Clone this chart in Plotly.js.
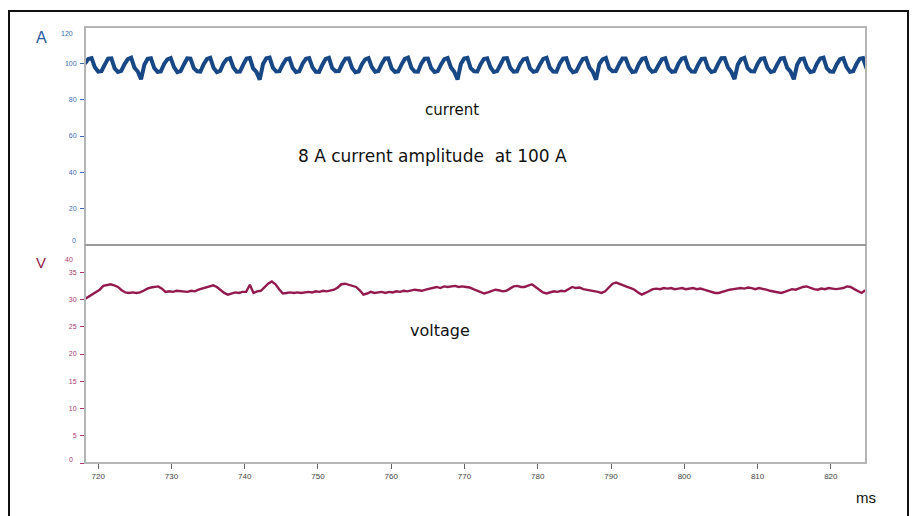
<!DOCTYPE html>
<html>
<head>
<meta charset="utf-8">
<script src="https://cdn.plot.ly/plotly-3.0.1.min.js"></script>
<style>
  html, body { margin: 0; padding: 0; background: #fff; }
  #wrap { position: relative; width: 914px; height: 516px; overflow: hidden; }
  #chart { position: absolute; left: 0; top: 0; width: 914px; height: 516px; }
  #frame { position: absolute; left: 8px; top: 10px; width: 901px; height: 530px;
           border: 2px solid #111; box-sizing: border-box; pointer-events: none; }
</style>
</head>
<body>
<div id="wrap">
  <div id="chart"></div>
  <div id="frame"></div>
</div>
<script>
// Time axis (ms)
const timeRange = [718.2, 824.8];
const timeTicks = [720, 730, 740, 750, 760, 770, 780, 790, 800, 810, 820];

// Current signal (A), uniformly sampled
const currentStart = 718.2;
const currentStep = 0.45;
const currentValues = [
  99.8, 102.4, 102.9, 97.8, 95.4, 95.7,
  99.3, 102.6, 102.7, 97.2, 95.2, 95.8,
  99.6, 102.3, 103.1, 97.6, 95.5, 91.2,
  99.2, 102.5, 102.8, 97.4, 95.3, 95.6,
  99.7, 102.2, 102.9, 97.9, 95.1, 95.7,
  99.4, 102.7, 102.6, 97.3, 95.6, 95.4,
  99.5, 102.4, 103.0, 97.5, 95.2, 95.8,
  99.9, 102.3, 102.8, 97.7, 95.4, 95.5,
  99.3, 102.6, 102.9, 97.2, 95.3, 91.0,
  99.6, 102.8, 103.2, 97.6, 95.5, 95.7,
  99.4, 102.3, 102.7, 97.4, 95.2, 95.6,
  99.8, 102.5, 102.9, 97.8, 95.4, 95.3,
  99.2, 102.4, 103.0, 97.3, 95.6, 95.7,
  99.6, 102.6, 102.7, 97.5, 95.1, 95.5,
  99.5, 102.2, 102.9, 97.9, 95.4, 95.8,
  99.7, 102.7, 102.8, 97.2, 95.3, 95.6,
  99.3, 102.4, 103.1, 97.6, 95.5, 95.4,
  99.8, 102.5, 102.6, 97.4, 95.2, 95.7,
  99.4, 102.3, 102.9, 97.7, 95.4, 91.1,
  99.6, 102.6, 103.0, 97.3, 95.6, 95.5,
  99.5, 102.4, 102.8, 97.8, 95.2, 95.7,
  99.2, 102.7, 102.9, 97.5, 95.4, 95.6,
  99.7, 102.3, 102.7, 97.2, 95.3, 95.8,
  99.4, 102.5, 103.1, 97.6, 95.5, 95.4,
  99.8, 102.6, 102.8, 97.4, 95.1, 95.6,
  99.3, 102.4, 102.9, 97.7, 95.4, 91.0,
  99.6, 102.2, 103.0, 97.3, 95.6, 95.7,
  99.5, 102.7, 102.7, 97.9, 95.2, 95.5,
  99.7, 102.5, 102.9, 97.5, 95.4, 95.8,
  99.2, 102.3, 102.8, 97.2, 95.3, 95.6,
  99.8, 102.6, 103.1, 97.6, 95.5, 95.4,
  99.4, 102.4, 102.6, 97.4, 95.2, 95.7,
  99.6, 102.8, 102.9, 97.8, 95.4, 91.3,
  99.3, 102.3, 103.0, 97.3, 95.6, 95.5,
  99.7, 102.5, 102.8, 97.6, 95.3, 95.8,
  99.5, 102.6, 102.9, 97.5, 95.4, 91.2,
  99.2, 102.4, 102.7, 97.7, 95.2, 95.6,
  99.8, 102.7, 103.1, 97.3, 95.5, 95.4,
  99.4, 102.3, 102.8, 97.9, 95.3, 95.7,
  99.6, 102.5, 102.9, 97.4, 95.4, 95.6
];

// Voltage signal (V), uniformly sampled
const voltageStart = 718.2;
const voltageStep = 0.5;
const voltageValues = [
  30.1, 30.5, 31.0, 31.4, 31.8, 32.5, 32.7, 32.8, 32.6, 32.3,
  31.7, 31.3, 31.2, 31.3, 31.2, 31.3, 31.6, 32.0, 32.2, 32.3,
  32.4, 32.0, 31.4, 31.5, 31.4, 31.6, 31.5, 31.5, 31.4, 31.6,
  31.5, 31.8, 32.0, 32.2, 32.3, 32.6, 32.3, 31.7, 31.2, 30.9,
  31.1, 31.3, 31.2, 31.4, 31.4, 32.7, 31.2, 31.5, 31.6, 32.2,
  32.9, 33.3, 32.8, 31.9, 31.1, 31.2, 31.3, 31.2, 31.3, 31.2,
  31.3, 31.4, 31.3, 31.5, 31.4, 31.6, 31.5, 31.7, 31.8, 32.2,
  32.8, 32.9, 32.7, 32.6, 32.3, 31.7, 30.9, 31.1, 31.4, 31.2,
  31.3, 31.4, 31.2, 31.4, 31.3, 31.5, 31.4, 31.6, 31.5, 31.7,
  31.8, 31.7, 31.6, 31.8, 32.0, 32.2, 32.3, 32.1, 32.4, 32.3,
  32.4, 32.5, 32.3, 32.4, 32.3, 32.2, 31.9, 31.6, 31.3, 31.1,
  31.3, 31.6, 31.8, 31.7, 31.5, 31.6, 32.0, 32.4, 32.5, 32.3,
  32.3, 32.6, 32.8, 32.3, 31.8, 31.3, 31.1, 31.3, 31.5, 31.4,
  31.6, 31.5, 31.9, 32.3, 32.1, 32.2, 31.9, 31.8, 31.7, 31.5,
  31.4, 31.2, 31.5, 32.2, 32.9, 33.1, 32.8, 32.5, 32.3, 32.1,
  31.8, 31.3, 30.9, 31.2, 31.6, 31.9, 32.0, 31.9, 32.1, 32.0,
  32.1, 31.9, 32.0, 32.1, 31.9, 32.0, 32.1, 31.9, 32.0, 31.8,
  31.6, 31.4, 31.2, 31.2, 31.4, 31.7, 31.8, 31.9, 32.0, 32.1,
  32.0, 32.2, 32.1, 31.9, 32.1, 32.0, 31.8, 31.6, 31.5, 31.3,
  31.2, 31.4, 31.7, 31.9, 31.8, 32.1, 32.3, 32.4, 32.1, 31.9,
  31.8, 32.0, 31.9, 32.1, 32.0, 31.9, 32.0, 32.1, 32.4, 32.3,
  31.9, 31.5, 31.2, 31.7
];

// Axis tick values
const currentTicks = [20, 40, 60, 80, 100];
const voltageTicks = [0, 5, 10, 15, 20, 25, 30, 35];
const voltageTickText = ['', '5', '10', '15', '20', '25', '30', '35'];

const BLUE = '#174784';
const BLUE_TXT = '#3d6db3';
const RED = '#931a4e';
const RED_TXT = '#a83a6e';
const FONT = 'Liberation Sans, Arial, sans-serif';
const WIDE = 'DejaVu Sans, sans-serif';

const traces = [
  {
    type: 'scatter', mode: 'lines',
    x0: currentStart, dx: currentStep, y: currentValues,
    xaxis: 'x', yaxis: 'y',
    line: { color: BLUE, width: 4 },
    hoverinfo: 'skip'
  },
  {
    type: 'scatter', mode: 'lines',
    x0: voltageStart, dx: voltageStep, y: voltageValues,
    xaxis: 'x', yaxis: 'y2',
    line: { color: RED, width: 2.4 },
    hoverinfo: 'skip'
  }
];

const layout = {
  width: 914, height: 516,
  margin: { l: 85, r: 48, t: 27, b: 53 },
  paper_bgcolor: 'rgba(0,0,0,0)',
  plot_bgcolor: 'rgba(0,0,0,0)',
  showlegend: false,
  font: { family: FONT },
  xaxis: {
    anchor: 'y2', range: timeRange,
    tickvals: timeTicks, ticks: 'outside', ticklen: 5, tickwidth: 1, tickcolor: '#666',
    tickfont: { size: 8, color: '#444', family: FONT },
    showgrid: false, zeroline: false, showline: false
  },
  yaxis: {
    domain: [0.5, 1], range: [0, 120],
    tickvals: currentTicks, ticks: 'outside', ticklen: 4, tickcolor: BLUE_TXT,
    tickfont: { size: 7, color: BLUE_TXT, family: FONT },
    ticklabelstandoff: 2,
    showgrid: false, zeroline: false, showline: false
  },
  yaxis2: {
    domain: [0, 0.5], range: [0, 40],
    tickvals: voltageTicks, ticktext: voltageTickText,
    ticks: 'outside', ticklen: 4, tickcolor: RED_TXT,
    tickfont: { size: 7, color: RED_TXT, family: FONT },
    ticklabelstandoff: 2,
    showgrid: false, zeroline: false, showline: false
  },
  shapes: [
    { type: 'rect', xref: 'paper', yref: 'paper', x0: 0, x1: 1, y0: 0, y1: 1,
      line: { color: '#b5b5b5', width: 2 } },
    { type: 'line', xref: 'paper', yref: 'paper', x0: 0, x1: 1, y0: 0.5, y1: 0.5,
      line: { color: '#9a9a9a', width: 2 } }
  ],
  annotations: [
    { text: '120', xref: 'paper', yref: 'y', x: 0, y: 120, xanchor: 'right', yanchor: 'middle',
      xshift: -10, yshift: -6, showarrow: false, font: { size: 7, color: BLUE_TXT, family: FONT } },
    { text: '0', xref: 'paper', yref: 'y', x: 0, y: 0, xanchor: 'right', yanchor: 'middle',
      xshift: -7, yshift: 5, showarrow: false, font: { size: 7, color: BLUE_TXT, family: FONT } },
    { text: '40', xref: 'paper', yref: 'y2', x: 0, y: 40, xanchor: 'right', yanchor: 'middle',
      xshift: -10, yshift: -14, showarrow: false, font: { size: 7, color: RED_TXT, family: FONT } },
    { text: '0', xref: 'paper', yref: 'y2', x: 0, y: 0, xanchor: 'right', yanchor: 'middle',
      xshift: -10, yshift: 4, showarrow: false, font: { size: 7, color: RED_TXT, family: FONT } },
    { text: 'A', xref: 'paper', yref: 'paper', x: -0.056, y: 1.0, xanchor: 'center', yanchor: 'middle',
      yshift: -10, showarrow: false, font: { size: 16, color: '#2a5aa0', family: FONT } },
    { text: 'V', xref: 'paper', yref: 'paper', x: -0.056, y: 0.5, xanchor: 'center', yanchor: 'middle',
      yshift: -17, showarrow: false, font: { size: 15, color: RED, family: FONT } },
    { text: 'current', xref: 'paper', yref: 'paper', x: 0.47, y: 0.81, xanchor: 'center', yanchor: 'middle',
      showarrow: false, font: { size: 15, color: '#111', family: WIDE } },
    { text: '8 A current amplitude&nbsp;&nbsp;at 100 A', xref: 'paper', yref: 'paper', x: 0.445, y: 0.705,
      xanchor: 'center', yanchor: 'middle', showarrow: false, font: { size: 17, color: '#111', family: WIDE } },
    { text: 'voltage', xref: 'paper', yref: 'paper', x: 0.455, y: 0.305, xanchor: 'center', yanchor: 'middle',
      showarrow: false, font: { size: 16, color: '#111', family: WIDE } },
    { text: 'ms', xref: 'paper', yref: 'paper', x: 1.0, y: -0.08, xanchor: 'center', yanchor: 'middle',
      showarrow: false, font: { size: 15, color: '#111', family: FONT } }
  ]
};

Plotly.newPlot('chart', traces, layout, { staticPlot: true, displayModeBar: false });
</script>
</body>
</html>
